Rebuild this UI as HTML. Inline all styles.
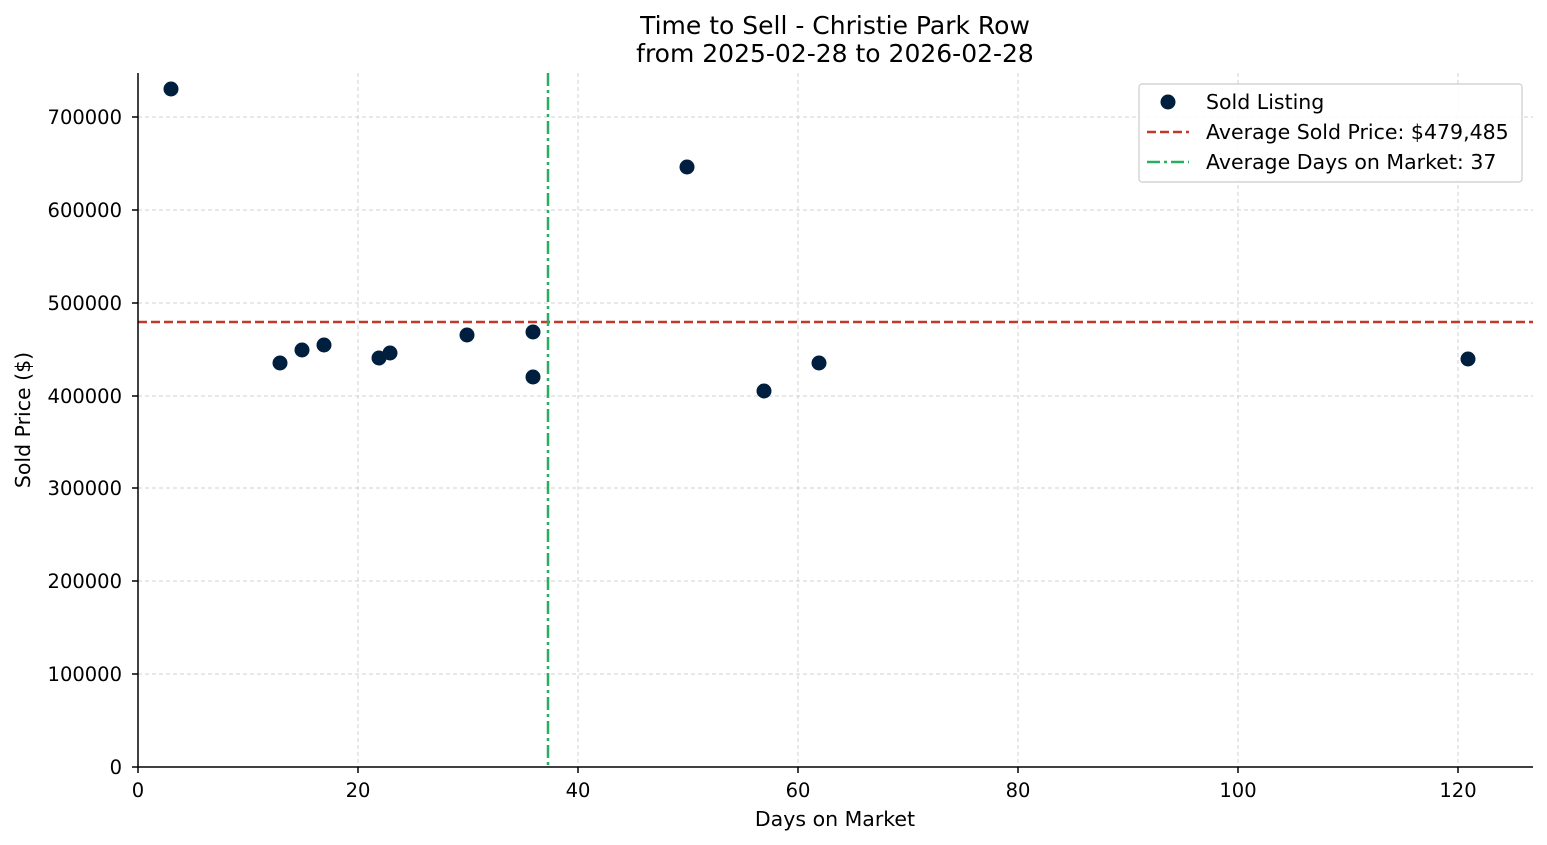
<!DOCTYPE html>
<html><head><meta charset="utf-8"><style>body{margin:0;background:#fff}svg{display:block}text{font-family:"DejaVu Sans","Liberation Sans",sans-serif;fill:#000}</style></head><body>
<svg width="1547" height="845" xmlns="http://www.w3.org/2000/svg">
<g stroke="#d0d0d0" stroke-width="1" stroke-dasharray="4,3">
<line x1="358" y1="73" x2="358" y2="767"/><line x1="578" y1="73" x2="578" y2="767"/><line x1="798" y1="73" x2="798" y2="767"/><line x1="1018" y1="73" x2="1018" y2="767"/><line x1="1238" y1="73" x2="1238" y2="767"/><line x1="1458" y1="73" x2="1458" y2="767"/>
<line x1="138" y1="674" x2="1533" y2="674"/><line x1="138" y1="581" x2="1533" y2="581"/><line x1="138" y1="488" x2="1533" y2="488"/><line x1="138" y1="396" x2="1533" y2="396"/><line x1="138" y1="303" x2="1533" y2="303"/><line x1="138" y1="210" x2="1533" y2="210"/><line x1="138" y1="117" x2="1533" y2="117"/>
</g>
<line x1="138" y1="322" x2="1533" y2="322" stroke="#c0392b" stroke-width="2.5" stroke-dasharray="9,4"/>
<line x1="548" y1="73" x2="548" y2="767" stroke="#27ae60" stroke-width="2.5" stroke-dasharray="13,4,3,4"/>
<g fill="#001f3f">
<circle cx="171" cy="89" r="7.5"/><circle cx="280" cy="363" r="7.5"/><circle cx="302" cy="350" r="7.5"/><circle cx="324" cy="345" r="7.5"/><circle cx="379" cy="358" r="7.5"/><circle cx="390" cy="353" r="7.5"/><circle cx="467" cy="335" r="7.5"/><circle cx="533" cy="332" r="7.5"/><circle cx="533" cy="377" r="7.5"/><circle cx="687" cy="167" r="7.5"/><circle cx="764" cy="391" r="7.5"/><circle cx="819" cy="363" r="7.5"/><circle cx="1468" cy="359" r="7.5"/>
</g>
<g stroke="#000" stroke-width="1.5">
<line x1="138" y1="73" x2="138" y2="767"/><line x1="138" y1="767" x2="1533" y2="767"/>
<line x1="138" y1="767" x2="138" y2="773"/><line x1="358" y1="767" x2="358" y2="773"/><line x1="578" y1="767" x2="578" y2="773"/><line x1="798" y1="767" x2="798" y2="773"/><line x1="1018" y1="767" x2="1018" y2="773"/><line x1="1238" y1="767" x2="1238" y2="773"/><line x1="1458" y1="767" x2="1458" y2="773"/>
<line x1="132" y1="767" x2="138" y2="767"/><line x1="132" y1="674" x2="138" y2="674"/><line x1="132" y1="581" x2="138" y2="581"/><line x1="132" y1="488" x2="138" y2="488"/><line x1="132" y1="396" x2="138" y2="396"/><line x1="132" y1="303" x2="138" y2="303"/><line x1="132" y1="210" x2="138" y2="210"/><line x1="132" y1="117" x2="138" y2="117"/>
</g>
<g font-size="19.5" text-anchor="middle">
<text x="138" y="797">0</text><text x="358" y="797">20</text><text x="578" y="797">40</text><text x="798" y="797">60</text><text x="1018" y="797">80</text><text x="1238" y="797">100</text><text x="1458" y="797">120</text>
</g>
<text font-size="20.5" text-anchor="middle" x="835" y="826">Days on Market</text>
<g font-size="19.5" text-anchor="end">
<text x="122" y="774">0</text><text x="122" y="681">100000</text><text x="122" y="588">200000</text><text x="122" y="495">300000</text><text x="122" y="403">400000</text><text x="122" y="310">500000</text><text x="122" y="217">600000</text><text x="122" y="124">700000</text>
</g>
<text font-size="20.5" text-anchor="middle" transform="translate(30,420) rotate(-90)">Sold Price ($)</text>
<text font-size="25" text-anchor="middle" x="835" y="34">Time to Sell - Christie Park Row</text>
<text font-size="25" text-anchor="middle" x="835" y="62">from 2025-02-28 to 2026-02-28</text>
<rect x="1139" y="84" width="383" height="98" rx="3" fill="#fff" fill-opacity="0.85" stroke="#ccc" stroke-width="1.2"/>
<circle cx="1168" cy="102" r="7.5" fill="#001f3f"/>
<line x1="1147" y1="132" x2="1189" y2="132" stroke="#c0392b" stroke-width="2.5" stroke-dasharray="9,4"/>
<line x1="1147" y1="162" x2="1189" y2="162" stroke="#27ae60" stroke-width="2.5" stroke-dasharray="13,4,3,4"/>
<g font-size="20.5"><text x="1206" y="109">Sold Listing</text><text x="1206" y="139">Average Sold Price: $479,485</text><text x="1206" y="169">Average Days on Market: 37</text></g>
</svg>
</body></html>
